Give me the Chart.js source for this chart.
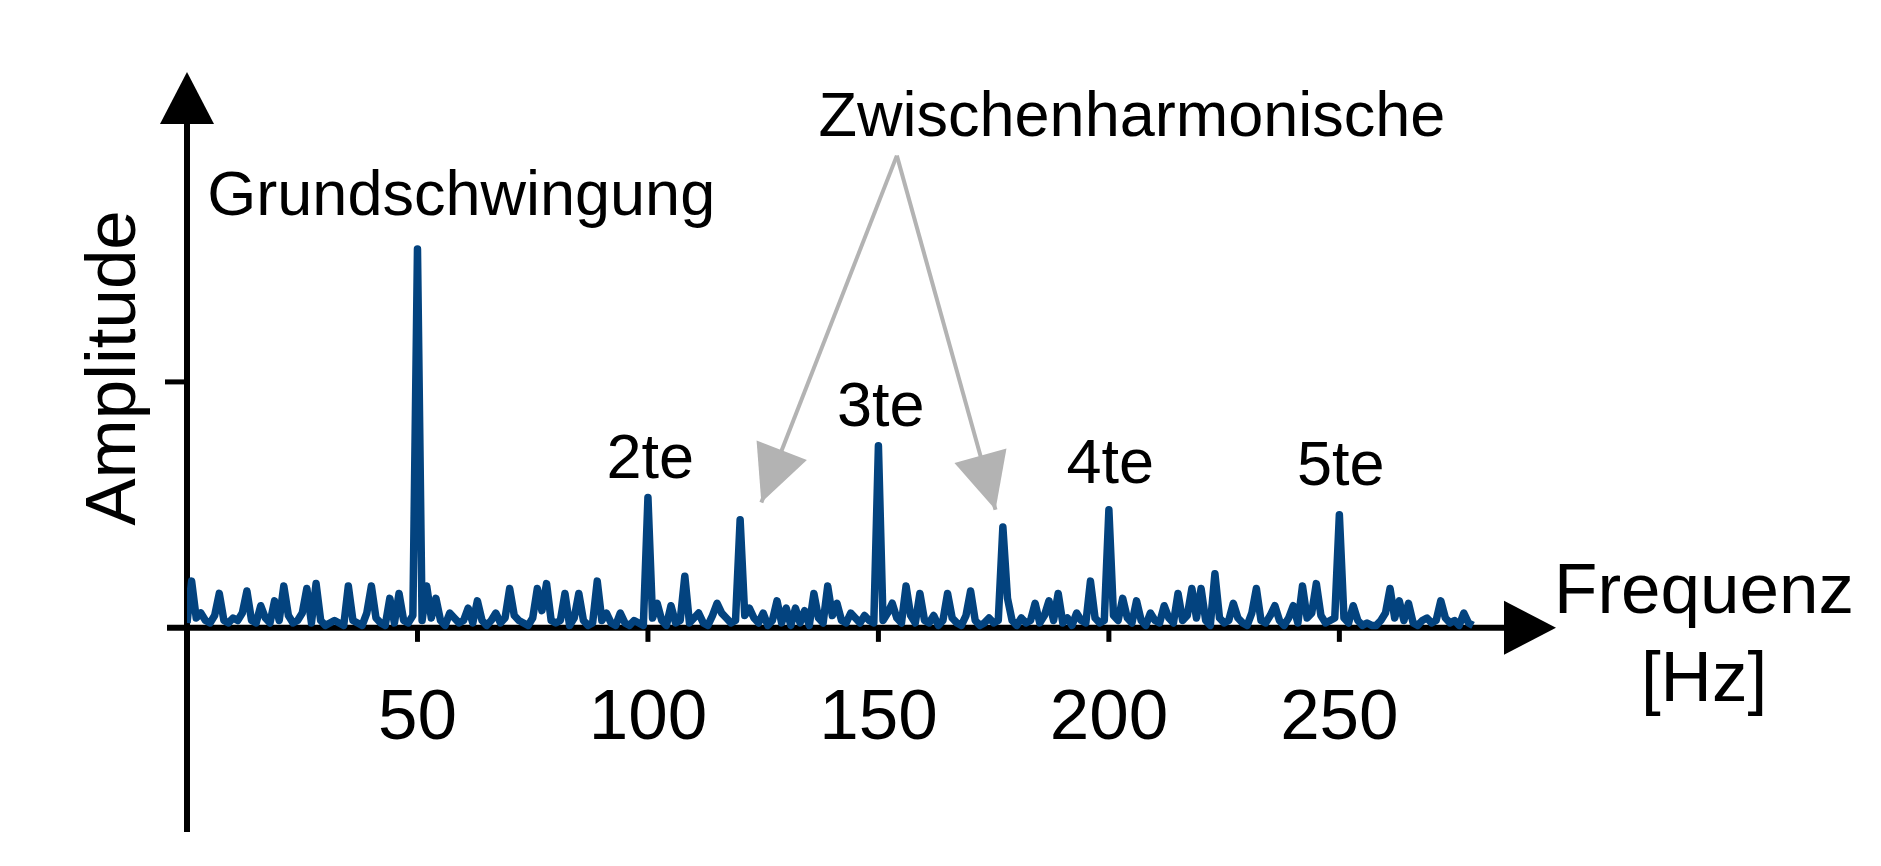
<!DOCTYPE html>
<html>
<head>
<meta charset="utf-8">
<script src="https://cdn.jsdelivr.net/npm/chart.js@4"></script>
<style>
  html, body { margin: 0; padding: 0; background: #fff; }
  #wrap { width: 1881px; height: 866px; }
</style>
</head>
<body>
<div id="wrap"><canvas id="spectrum"></canvas></div>
<script>
// frequency in Hz, 1 Hz steps
const freqs = [];
for (let f = 0; f < 280; f++) freqs.push(f);

// amplitude
const amplitude = [
  0.02,0.19,0.04,0.06,0.03,0.02,0.05,0.14,0.03,0.02,
  0.04,0.03,0.06,0.15,0.03,0.02,0.09,0.04,0.02,0.11,
  0.03,0.17,0.05,0.02,0.03,0.06,0.16,0.02,0.18,0.03,
  0.01,0.02,0.03,0.02,0.01,0.17,0.03,0.02,0.01,0.06,
  0.17,0.04,0.02,0.01,0.12,0.02,0.14,0.03,0.02,0.05,
  1.54,0.03,0.17,0.04,0.12,0.03,0.01,0.06,0.04,0.02,
  0.03,0.08,0.02,0.11,0.03,0.01,0.03,0.06,0.02,0.04,
  0.16,0.05,0.03,0.02,0.01,0.04,0.16,0.07,0.18,0.03,
  0.02,0.03,0.14,0.01,0.04,0.14,0.03,0.01,0.02,0.19,
  0.03,0.06,0.02,0.01,0.06,0.02,0.01,0.03,0.02,0.01,
  0.53,0.04,0.10,0.03,0.01,0.09,0.02,0.03,0.21,0.02,
  0.04,0.06,0.02,0.01,0.05,0.10,0.06,0.04,0.02,0.03,
  0.44,0.05,0.08,0.04,0.02,0.06,0.01,0.03,0.11,0.02,
  0.08,0.01,0.08,0.02,0.07,0.01,0.14,0.04,0.02,0.17,
  0.05,0.10,0.03,0.02,0.06,0.04,0.02,0.05,0.03,0.02,
  0.74,0.03,0.06,0.10,0.04,0.02,0.17,0.05,0.02,0.14,
  0.03,0.02,0.05,0.01,0.03,0.14,0.04,0.02,0.01,0.05,
  0.15,0.03,0.01,0.02,0.04,0.02,0.03,0.41,0.12,0.03,
  0.01,0.04,0.02,0.03,0.10,0.02,0.05,0.11,0.03,0.14,
  0.02,0.04,0.01,0.06,0.03,0.02,0.19,0.04,0.02,0.03,
  0.48,0.05,0.03,0.12,0.04,0.02,0.11,0.03,0.01,0.06,
  0.03,0.02,0.09,0.04,0.02,0.14,0.03,0.05,0.16,0.04,
  0.16,0.03,0.01,0.22,0.04,0.02,0.03,0.10,0.04,0.02,
  0.01,0.06,0.16,0.03,0.02,0.05,0.09,0.03,0.01,0.04,
  0.09,0.02,0.17,0.04,0.06,0.18,0.05,0.02,0.03,0.04,
  0.46,0.04,0.02,0.09,0.03,0.01,0.02,0.01,0.01,0.03,
  0.06,0.16,0.04,0.11,0.03,0.10,0.02,0.01,0.03,0.04,
  0.02,0.03,0.11,0.04,0.02,0.03,0.01,0.06,0.02,0.01
];

const xTicks = [50, 100, 150, 200, 250];
const yTicks = [1];

// annotation labels [text, x(Hz), y(amplitude)]
const peakLabels = [
  ["Grundschwingung", 59.5, 1.75],
  ["2te", 100.5, 0.68],
  ["3te", 150.5, 0.89],
  ["4te", 200.3, 0.66],
  ["5te", 250.3, 0.65]
];
const interLabel = ["Zwischenharmonische", 205, 2.07];
const interFrom = [154, 1.92];
const interTargets = [[124.6, 0.51], [175.4, 0.48]];

const FONT = '"Liberation Sans", Arial, sans-serif';

function arrowHead(ctx, x1, y1, x2, y2, len, half) {
  const a = Math.atan2(y2 - y1, x2 - x1);
  ctx.beginPath();
  ctx.moveTo(x2, y2);
  ctx.lineTo(x2 - len * Math.cos(a) + half * Math.sin(a), y2 - len * Math.sin(a) - half * Math.cos(a));
  ctx.lineTo(x2 - len * Math.cos(a) - half * Math.sin(a), y2 - len * Math.sin(a) + half * Math.cos(a));
  ctx.closePath();
  ctx.fill();
}

const axesPlugin = {
  id: "axesPlugin",
  beforeDatasetsDraw(chart) {
    const { ctx, scales: { x, y }, chartArea } = chart;
    const x0 = x.getPixelForValue(0), y0 = y.getPixelForValue(0);
    ctx.save();
    ctx.strokeStyle = "#000";
    ctx.fillStyle = "#000";
    ctx.lineWidth = 6;
    // y axis
    ctx.beginPath();
    ctx.moveTo(x0, chartArea.bottom);
    ctx.lineTo(x0, chartArea.top + 40);
    ctx.stroke();
    arrowHead(ctx, x0, chartArea.bottom, x0, chartArea.top, 52, 27);
    // x axis
    ctx.beginPath();
    ctx.moveTo(x0 - 20, y0);
    ctx.lineTo(chartArea.right - 40, y0);
    ctx.stroke();
    arrowHead(ctx, x0, y0, chartArea.right, y0, 52, 27);
    // ticks
    ctx.lineWidth = 5;
    yTicks.forEach(v => {
      const py = y.getPixelForValue(v);
      ctx.beginPath(); ctx.moveTo(x0 - 22, py); ctx.lineTo(x0, py); ctx.stroke();
    });
    ctx.font = "71px " + FONT;
    ctx.textAlign = "center";
    ctx.textBaseline = "middle";
    xTicks.forEach(v => {
      const px = x.getPixelForValue(v);
      ctx.beginPath(); ctx.moveTo(px, y0); ctx.lineTo(px, y0 + 14); ctx.stroke();
      ctx.fillText(String(v), px, y0 + 92);
    });
    ctx.restore();
  },
  afterDraw(chart) {
    const { ctx, scales: { x, y } } = chart;
    ctx.save();
    ctx.fillStyle = "#000";
    ctx.font = "63px " + FONT;
    ctx.textAlign = "center";
    ctx.textBaseline = "middle";
    peakLabels.forEach(([t, fx, fy]) => ctx.fillText(t, x.getPixelForValue(fx), y.getPixelForValue(fy)));
    ctx.fillText(interLabel[0], x.getPixelForValue(interLabel[1]), y.getPixelForValue(interLabel[2]));
    ctx.font = "71px " + FONT;
    ctx.fillText("Frequenz", 1704, 593);
    ctx.fillText("[Hz]", 1704, 681);
    ctx.save();
    ctx.translate(115, 368);
    ctx.rotate(-Math.PI / 2);
    ctx.fillText("Amplitude", 0, 0);
    ctx.restore();
    // grey arrows
    ctx.strokeStyle = "#b3b3b3";
    ctx.fillStyle = "#b3b3b3";
    ctx.lineWidth = 4;
    const sx = x.getPixelForValue(interFrom[0]), sy = y.getPixelForValue(interFrom[1]);
    interTargets.forEach(([tx, ty]) => {
      const px = x.getPixelForValue(tx), py = y.getPixelForValue(ty);
      ctx.beginPath(); ctx.moveTo(sx, sy); ctx.lineTo(px, py); ctx.stroke();
      arrowHead(ctx, sx, sy, px, py, 56, 27);
    });
    ctx.restore();
  }
};

new Chart(document.getElementById("spectrum"), {
  type: "line",
  data: {
    datasets: [{
      data: freqs.map((f, i) => ({ x: f, y: amplitude[i] })),
      borderColor: "#03437f",
      borderWidth: 7.5,
      borderJoinStyle: "round",
      pointRadius: 0,
      tension: 0,
      fill: false
    }]
  },
  options: {
    responsive: true,
    maintainAspectRatio: false,
    animation: false,
    layout: { padding: { left: 187, right: 325, top: 72, bottom: 34 } },
    plugins: { legend: { display: false }, tooltip: { enabled: false } },
    scales: {
      x: { type: "linear", min: 0, max: 297, display: false },
      y: { min: -0.83, max: 2.26, display: false }
    }
  },
  plugins: [axesPlugin]
});
</script>
</body>
</html>
